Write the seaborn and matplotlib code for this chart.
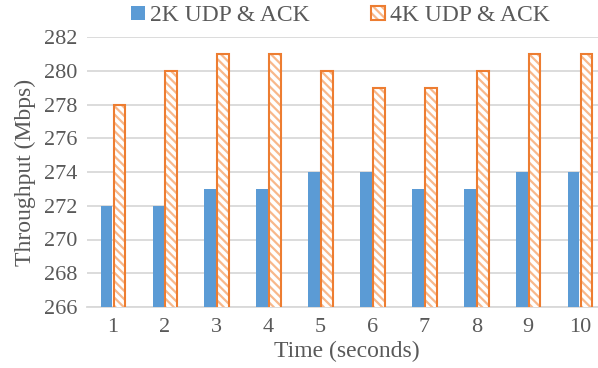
import pandas as pd
import matplotlib.pyplot as plt
import seaborn as sns
from matplotlib.colors import to_rgba
from matplotlib.patches import Patch

# Data
times = [1, 2, 3, 4, 5, 6, 7, 8, 9, 10]
udp_2k = [272, 272, 273, 273, 274, 274, 273, 273, 274, 274]
udp_4k = [278, 280, 281, 281, 280, 279, 279, 280, 281, 281]
series = ["2K UDP & ACK", "4K UDP & ACK"]

df = pd.DataFrame({
    "Time": times * 2,
    "Throughput": udp_2k + udp_4k,
    "Series": [series[0]] * len(times) + [series[1]] * len(times),
})

blue = "#5B9BD5"
orange = "#ED7D31"
hatch_col = "#F8B88B"
grid_col = "#D9D9D9"
text_col = "#595959"
hatch = "\\\\\\\\"

sns.set_style("white")
plt.rcParams["font.family"] = ["Liberation Serif", "DejaVu Serif"]
plt.rcParams["hatch.linewidth"] = 1.6

fig = plt.figure(figsize=(5.98, 3.68), dpi=100)
ax = fig.add_axes([87 / 598, 1 - 307 / 368, 519 / 598, 270 / 368])

sns.barplot(data=df, x="Time", y="Throughput", hue="Series",
            palette=[blue, orange], saturation=1, width=0.5, gap=0.1,
            ax=ax, legend=False, zorder=3)

n = len(times)
for i, p in enumerate(ax.patches[:2 * n]):
    if i >= n:
        p.set_facecolor("white")
        p.set_edgecolor(orange)
        p.set_linewidth(1.5)
        p.set_hatch(hatch)
        p._hatch_color = to_rgba(hatch_col)
    else:
        p.set_edgecolor("none")

ax.set_ylim(266, 282)
ax.set_yticks(range(266, 283, 2))
ax.yaxis.grid(True, color=grid_col, linewidth=1.3, zorder=0)
ax.set_axisbelow(True)
for s in ["top", "right", "left"]:
    ax.spines[s].set_visible(False)
ax.spines["bottom"].set_color(grid_col)
ax.spines["bottom"].set_linewidth(1.3)
ax.tick_params(axis="both", length=0, labelsize=16, colors=text_col)
ax.tick_params(axis="y", pad=7)
ax.tick_params(axis="x", pad=8)

ax.set_xlabel("Time (seconds)", fontsize=17, color=text_col, labelpad=3)
ax.set_ylabel("Throughput (Mbps)", fontsize=17, color=text_col, labelpad=6)

# legend with square markers
h1 = Patch(facecolor=blue, edgecolor="none")
h2 = Patch(facecolor="white", edgecolor=orange, hatch=hatch, linewidth=1.5)
h2._hatch_color = to_rgba(hatch_col)
leg = fig.legend([h1, h2], series, loc="center", bbox_to_anchor=(340 / 598, 0.957),
                 ncol=2, frameon=False, fontsize=17, handlelength=0.6,
                 handleheight=0.6, handletextpad=0.2, columnspacing=2.6,
                 borderpad=0, borderaxespad=0)
for t in leg.get_texts():
    t.set_color(text_col)

plt.savefig("out.png", dpi=100)
